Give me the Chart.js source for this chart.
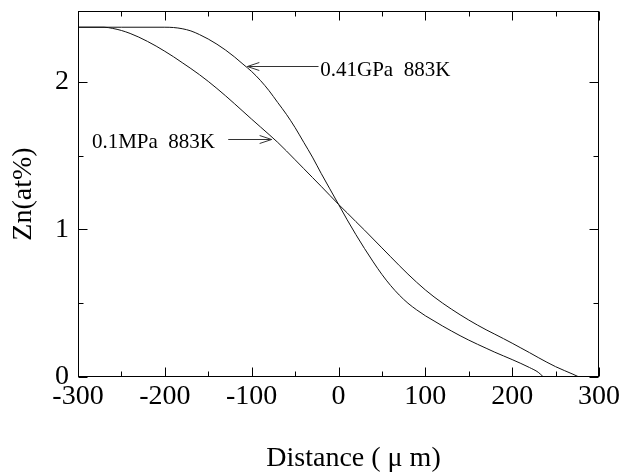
<!DOCTYPE html>
<html><head><meta charset="utf-8">
<script src="https://cdn.jsdelivr.net/npm/chart.js@4.4.1/dist/chart.umd.min.js"></script>
<style>html,body{margin:0;padding:0;background:#fff}canvas{display:block}</style>
</head><body>
<canvas id="c" width="622" height="473"></canvas>
<script>
// ---- data ----
const distance041GPa = [-300,-250,-200,-190,-180,-170,-160,-150,-140,-130,-120,-110,-100,-90,-80,-70,-60,-50,-40,-30,-20,-10,0,10,20,30,40,50,60,70,80,90,100,110,120,130,140,150,160,170,180,190,200,210,220,230,236];
const zn041GPa = [2.37,2.37,2.37,2.368,2.36,2.345,2.32,2.29,2.255,2.215,2.17,2.12,2.07,2.01,1.94,1.86,1.78,1.69,1.59,1.49,1.38,1.275,1.17,1.065,0.965,0.87,0.78,0.695,0.62,0.555,0.5,0.455,0.415,0.38,0.345,0.312,0.28,0.25,0.222,0.195,0.168,0.143,0.118,0.092,0.064,0.032,0];
const distance01MPa = [-300,-270,-260,-250,-240,-230,-220,-210,-200,-190,-180,-170,-160,-150,-140,-130,-120,-110,-100,-90,-80,-70,-60,-50,-40,-30,-20,-10,0,10,20,30,40,50,60,70,80,90,100,110,120,130,140,150,160,170,180,190,200,210,220,230,240,250,260,270,277];
const zn01MPa = [2.37,2.37,2.362,2.348,2.328,2.303,2.274,2.242,2.207,2.17,2.13,2.09,2.048,2.003,1.955,1.905,1.853,1.8,1.747,1.695,1.643,1.59,1.532,1.472,1.412,1.352,1.292,1.231,1.17,1.112,1.053,0.995,0.935,0.875,0.815,0.755,0.697,0.642,0.59,0.543,0.5,0.46,0.422,0.386,0.352,0.32,0.29,0.26,0.229,0.197,0.165,0.132,0.1,0.07,0.044,0.019,0];
const xTickLabels = [-300,-200,-100,0,100,200,300];
const yTickLabels = [0,1,2];
const xMinorTicks = [-300,-250,-200,-150,-100,-50,0,50,100,150,200,250,300];
const yMinorTicks = [0,0.5,1,1.5,2];
const labelHigh = '0.41GPa  883K';
const labelLow = '0.1MPa  883K';
const xTitle = 'Distance ( \u03bc m)';
const yTitle = 'Zn(at%)';

// annotation anchors in data units
const noteHigh = {textX: -21, textY: 2.074, tailX: -23, tipX: -105, arrowY: 2.108};
const noteLow = {textX: -284, textY: 1.59, tailX: -127, tipX: -77, arrowY: 1.613};

const FONT = '"Liberation Serif", "Times New Roman", serif';
Chart.defaults.font.family = FONT;
Chart.defaults.color = '#000';

const toPts = (xs, ys) => xs.map((v, i) => ({x: v, y: ys[i]}));

const framePlugin = {
  id: 'framePlugin',
  afterDraw(chart) {
    const {ctx, chartArea: a, scales: {x, y}} = chart;
    ctx.save();
    ctx.strokeStyle = '#000';
    ctx.lineWidth = 1;
    const L = Math.round(a.left) + 0.5, R = Math.round(a.right) - 0.5;
    const T = Math.round(a.top) + 0.5, B = Math.round(a.bottom) - 0.5;
    ctx.strokeRect(L, T, R - L, B - T);
    ctx.beginPath();
    xMinorTicks.forEach(v => {
      const p = Math.round(x.getPixelForValue(v)) + 0.5;
      const len = (v % 100 === 0) ? 9 : 5;
      ctx.moveTo(p, B); ctx.lineTo(p, B - len);
      ctx.moveTo(p, T); ctx.lineTo(p, T + len);
    });
    yMinorTicks.forEach(v => {
      const p = Math.round(y.getPixelForValue(v)) + 0.5;
      const len = (v % 1 === 0) ? 9 : 5;
      ctx.moveTo(L, p); ctx.lineTo(L + len, p);
      ctx.moveTo(R, p); ctx.lineTo(R - len, p);
    });
    ctx.stroke();

    // x-axis title (centred slightly right of the plot centre, as in the reference)
    ctx.fillStyle = '#000';
    ctx.font = '28px ' + FONT;
    ctx.textAlign = 'center';
    ctx.textBaseline = 'alphabetic';
    ctx.fillText(xTitle, (a.left + a.right) / 2 + 15, 466);

    // annotations
    ctx.font = '21px ' + FONT;
    ctx.textBaseline = 'middle';
    ctx.textAlign = 'left';
    ctx.fillText(labelHigh, x.getPixelForValue(noteHigh.textX), y.getPixelForValue(noteHigh.textY));
    ctx.fillText(labelLow, x.getPixelForValue(noteLow.textX), y.getPixelForValue(noteLow.textY));
    const arrow = (x0, x1, yy) => {
      const px0 = x.getPixelForValue(x0), px1 = x.getPixelForValue(x1);
      const py = Math.round(y.getPixelForValue(yy)) + 0.5;
      const dir = Math.sign(px0 - px1);
      ctx.beginPath();
      ctx.moveTo(px0, py); ctx.lineTo(px1, py);
      ctx.moveTo(px1 + dir * 12, py - 4); ctx.lineTo(px1, py); ctx.lineTo(px1 + dir * 12, py + 4);
      ctx.strokeStyle = '#333';
      ctx.stroke();
    };
    arrow(noteHigh.tailX, noteHigh.tipX, noteHigh.arrowY);
    arrow(noteLow.tailX, noteLow.tipX, noteLow.arrowY);
    ctx.restore();
  }
};

new Chart(document.getElementById('c'), {
  type: 'scatter',
  data: {
    datasets: [
      {label: labelHigh, data: toPts(distance041GPa, zn041GPa), showLine: true, borderColor: '#111', borderWidth: 1, pointRadius: 0, cubicInterpolationMode: 'monotone'},
      {label: labelLow, data: toPts(distance01MPa, zn01MPa), showLine: true, borderColor: '#111', borderWidth: 1, pointRadius: 0, cubicInterpolationMode: 'monotone'}
    ]
  },
  options: {
    responsive: false,
    animation: false,
    devicePixelRatio: 1,
    layout: {padding: {top: 11, right: 23, left: 0, bottom: 0}},
    plugins: {legend: {display: false}, tooltip: {enabled: false}},
    scales: {
      x: {
        type: 'linear', min: -300, max: 300,
        afterBuildTicks: s => { s.ticks = xTickLabels.map(v => ({value: v})); },
        afterFit: s => { s.height = 96; s.paddingLeft = 0; s.paddingRight = 0; },
        grid: {display: false, drawTicks: false},
        border: {display: false},
        ticks: {font: {size: 28}, padding: 3, maxRotation: 0, autoSkip: false, color: '#000'},
        title: {display: false}
      },
      y: {
        type: 'linear', min: 0, max: 2.48,
        afterBuildTicks: s => { s.ticks = yTickLabels.map(v => ({value: v})); },
        afterFit: s => { s.width = 78; s.paddingTop = 0; s.paddingBottom = 0; },
        grid: {display: false, drawTicks: false},
        border: {display: false},
        ticks: {font: {size: 28}, padding: 9, color: '#000'},
        title: {display: true, text: yTitle, font: {size: 28}, padding: {top: 7, bottom: 0}, color: '#000'}
      }
    }
  },
  plugins: [framePlugin]
});
</script>
</body></html>
